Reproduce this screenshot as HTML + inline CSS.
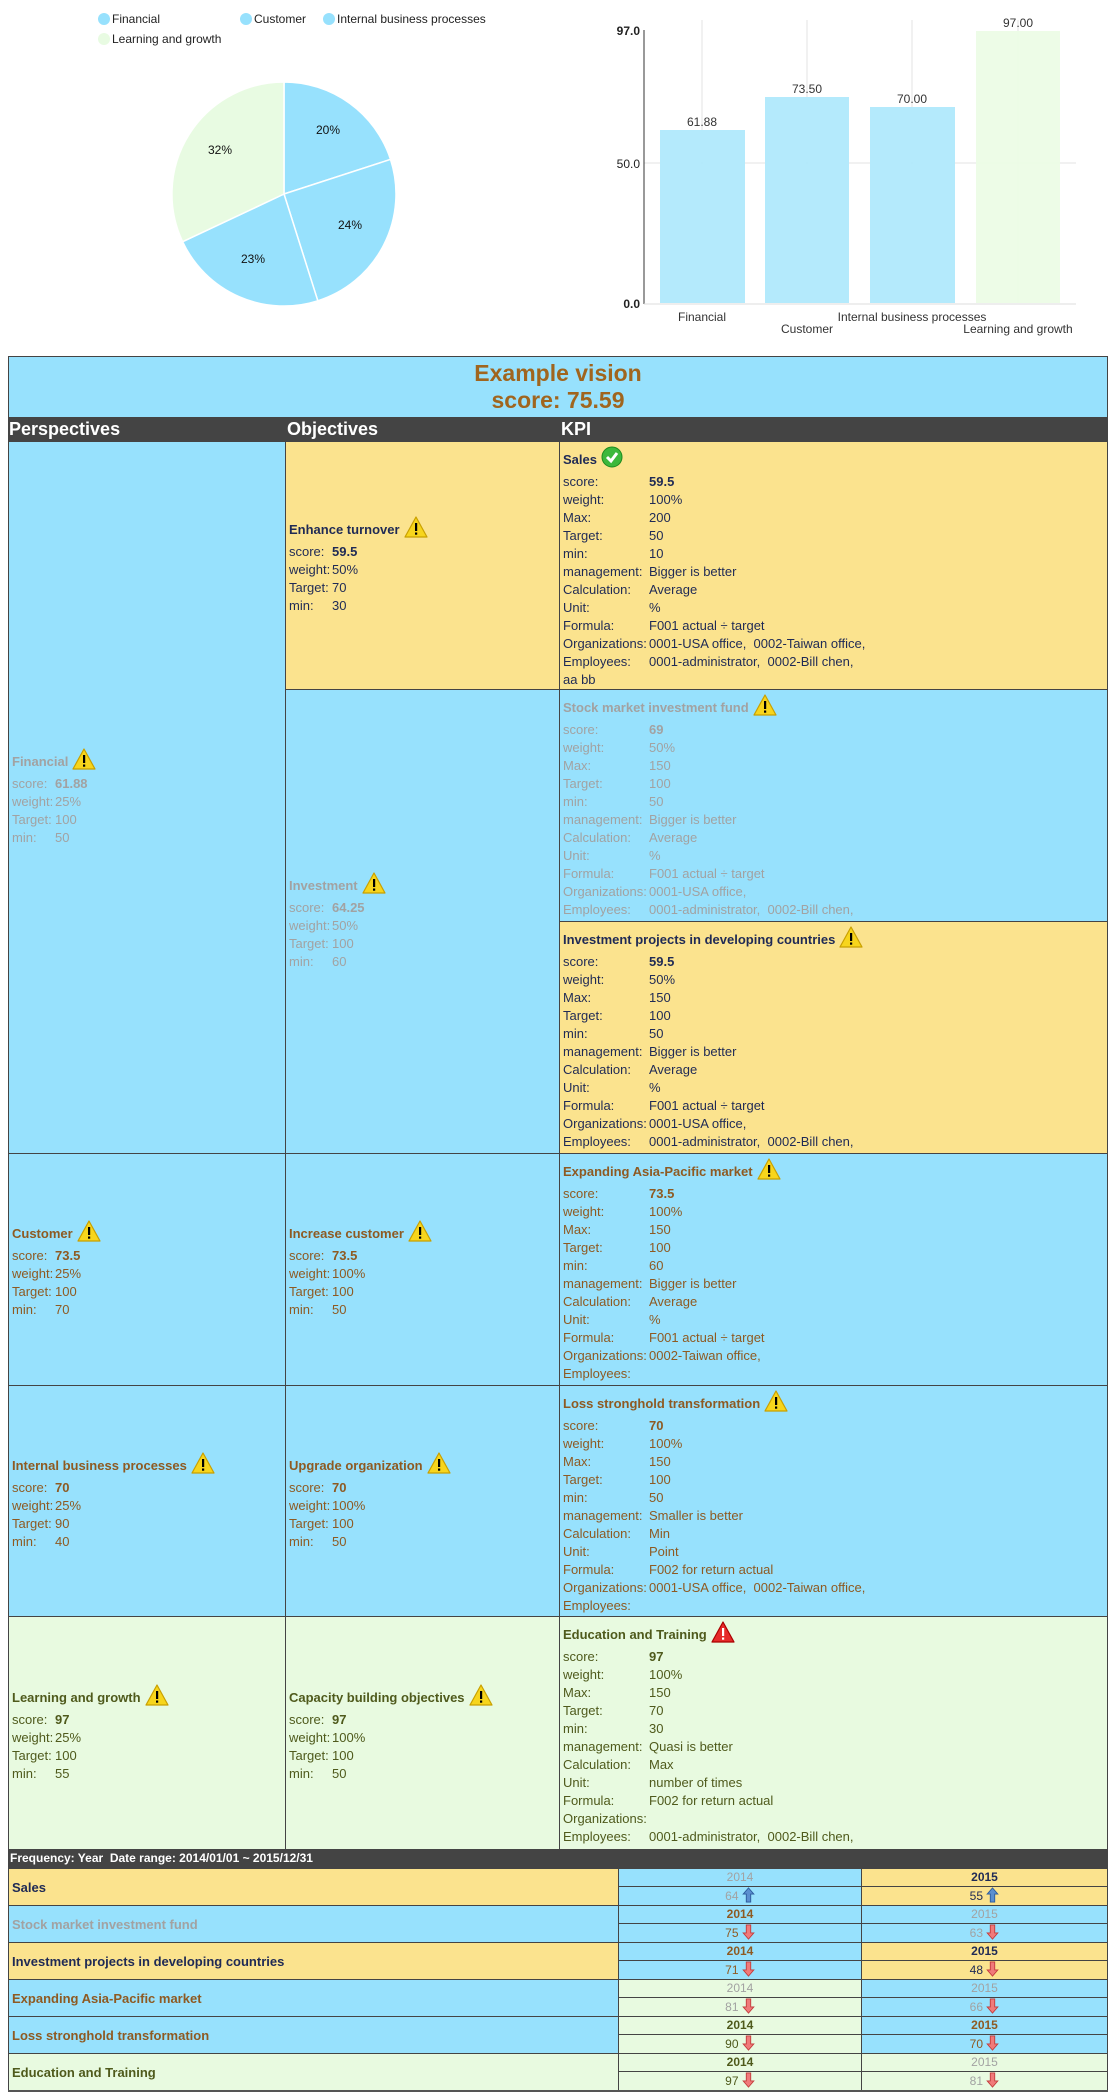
<!DOCTYPE html>
<html><head><meta charset="utf-8">
<style>
*{margin:0;padding:0;box-sizing:border-box}
body{width:1114px;height:2095px;background:#fff;position:relative;font-family:"Liberation Sans",Arial,sans-serif;font-size:13px;overflow:hidden}
.a{position:absolute}
.c{position:absolute;border:1px solid #444;display:flex;align-items:center;padding-left:3px}
.k{position:absolute;border:1px solid #444;padding:4px 0 0 3px}
.blue{background:#97e1fd}.yel{background:#fbe38e}.grn{background:#e8fae0}
.navy{color:#1f2a55}.grey{color:#a2a2a2}.brown{color:#8e5a22}.olive{color:#4f5a1c}
table{border-collapse:collapse}
td{padding:0;height:18px;line-height:18px;white-space:nowrap;vertical-align:middle}
.t{font-weight:bold;height:26px;line-height:26px}
.t svg{vertical-align:-4px;margin-left:4px}
.b{font-weight:bold}
.yr{position:absolute;border:1px solid #444;text-align:center;font-size:12px;line-height:17px}
</style></head><body>

<!-- Pie legend -->
<svg class="a" style="left:0;top:0" width="560" height="340">
<g font-family="Liberation Sans, Arial, sans-serif" font-size="12" fill="#222">
<circle cx="104" cy="19" r="6" fill="#97e1fd"/><text x="112" y="23">Financial</text>
<circle cx="246" cy="19" r="6" fill="#97e1fd"/><text x="254" y="23">Customer</text>
<circle cx="329" cy="19" r="6" fill="#97e1fd"/><text x="337" y="23">Internal business processes</text>
<circle cx="104" cy="39" r="6" fill="#e8fbe2"/><text x="112" y="43">Learning and growth</text>
</g>
<g stroke="#fff" stroke-width="1.5">
<path d="M284,194 L284,82 A112,112 0 0 1 390.5,159.4 Z" fill="#97e1fd"/>
<path d="M284,194 L390.5,159.4 A112,112 0 0 1 317.8,300.8 Z" fill="#97e1fd"/>
<path d="M284,194 L317.8,300.8 A112,112 0 0 1 182.6,241.7 Z" fill="#97e1fd"/>
<path d="M284,194 L182.6,241.7 A112,112 0 0 1 284,82 Z" fill="#e8fbe2"/>
</g>
<g font-family="Liberation Sans, Arial, sans-serif" font-size="12" fill="#111" text-anchor="middle">
<text x="328" y="134">20%</text><text x="350" y="229">24%</text>
<text x="253" y="263">23%</text><text x="220" y="154">32%</text>
</g>
</svg>

<!-- Bar chart -->
<svg class="a" style="left:0;top:0" width="1114" height="345">
<g stroke="#e3e3e3" stroke-width="1">
<line x1="702" y1="20" x2="702" y2="303"/><line x1="807" y1="20" x2="807" y2="303"/>
<line x1="912" y1="20" x2="912" y2="303"/><line x1="1018" y1="20" x2="1018" y2="303"/>
<line x1="644" y1="163" x2="1076" y2="163"/>
</g>
<rect x="660" y="130" width="85" height="173" fill="#b0e9fc" opacity=".95"/>
<rect x="765" y="97" width="84" height="206" fill="#b0e9fc" opacity=".95"/>
<rect x="870" y="107" width="85" height="196" fill="#b0e9fc" opacity=".95"/>
<rect x="976" y="31" width="84" height="272" fill="#ecfce6" opacity=".95"/>
<line x1="644" y1="30" x2="644" y2="304" stroke="#333"/>
<line x1="644" y1="304" x2="1076" y2="304" stroke="#ddd"/>
<g font-family="Liberation Sans, Arial, sans-serif" font-size="12" fill="#222" text-anchor="end">
<text x="640" y="35" font-weight="bold">97.0</text><text x="640" y="168">50.0</text><text x="640" y="308" font-weight="bold">0.0</text>
</g>
<g font-family="Liberation Sans, Arial, sans-serif" font-size="12" fill="#333" text-anchor="middle">
<text x="702" y="126">61.88</text><text x="807" y="93">73.50</text><text x="912" y="103">70.00</text><text x="1018" y="27">97.00</text>
<text x="702" y="321">Financial</text><text x="807" y="333">Customer</text>
<text x="912" y="321">Internal business processes</text><text x="1018" y="333">Learning and growth</text>
</g>
</svg>

<!-- Title band -->
<div class="a blue" style="left:8px;top:356px;width:1100px;height:62px;border:1px solid #444;text-align:center;color:#a0651e;font-weight:bold;font-size:23px;line-height:27px;padding-top:3px">Example vision<br>score: 75.59</div>
<div class="a" style="left:8px;top:417px;width:1100px;height:24px;background:#444;color:#fff;font-weight:bold;font-size:18px;line-height:24px">
<span class="a" style="left:1px">Perspectives</span><span class="a" style="left:279px">Objectives</span><span class="a" style="left:553px">KPI</span></div>

<svg width="0" height="0" style="position:absolute"><defs>
<symbol id="w" viewBox="0 0 24 22"><path d="M12 1 L23 21 L1 21 Z" fill="#f7d51c" stroke="#c9a000" stroke-width="1.2" stroke-linejoin="round"/><rect x="11" y="7" width="2.2" height="8" fill="#000"/><rect x="11" y="16.5" width="2.2" height="2.2" fill="#000"/></symbol>
<symbol id="r" viewBox="0 0 24 22"><path d="M12 1 L23 21 L1 21 Z" fill="#e62a2a" stroke="#a00" stroke-width="1.2" stroke-linejoin="round"/><rect x="11" y="7" width="2.2" height="8" fill="#fff"/><rect x="11" y="16.5" width="2.2" height="2.2" fill="#fff"/></symbol>
<symbol id="ok" viewBox="0 0 22 22"><circle cx="11" cy="11" r="10" fill="#3cb83c" stroke="#1e8a1e"/><path d="M6 11 L10 15 L16 7" stroke="#fff" stroke-width="3" fill="none"/></symbol>
<symbol id="up" viewBox="0 0 14 18"><path d="M7 1 L13 8 L9.5 8 L9.5 17 L4.5 17 L4.5 8 L1 8 Z" fill="#5b8fd0" stroke="#2b5a9a"/></symbol>
<symbol id="dn" viewBox="0 0 14 18"><path d="M7 17 L13 10 L9.5 10 L9.5 1 L4.5 1 L4.5 10 L1 10 Z" fill="#f07a7a" stroke="#c23a3a"/></symbol>
</defs></svg>

<!-- Perspectives -->
<div class="c blue grey" style="left:8px;top:441px;width:278px;height:713px"><table><tr><td colspan="2" class="t">Financial<svg width="24" height="22"><use href="#w"/></svg></td></tr><tr><td style="width:43px">score:</td><td class="b">61.88</td></tr><tr><td>weight:</td><td>25%</td></tr><tr><td>Target:</td><td>100</td></tr><tr><td>min:</td><td>50</td></tr></table></div>
<div class="c blue brown" style="left:8px;top:1153px;width:278px;height:233px"><table><tr><td colspan="2" class="t">Customer<svg width="24" height="22"><use href="#w"/></svg></td></tr><tr><td style="width:43px">score:</td><td class="b">73.5</td></tr><tr><td>weight:</td><td>25%</td></tr><tr><td>Target:</td><td>100</td></tr><tr><td>min:</td><td>70</td></tr></table></div>
<div class="c blue brown" style="left:8px;top:1385px;width:278px;height:232px"><table><tr><td colspan="2" class="t">Internal business processes<svg width="24" height="22"><use href="#w"/></svg></td></tr><tr><td style="width:43px">score:</td><td class="b">70</td></tr><tr><td>weight:</td><td>25%</td></tr><tr><td>Target:</td><td>90</td></tr><tr><td>min:</td><td>40</td></tr></table></div>
<div class="c grn olive" style="left:8px;top:1616px;width:278px;height:234px"><table><tr><td colspan="2" class="t">Learning and growth<svg width="24" height="22"><use href="#w"/></svg></td></tr><tr><td style="width:43px">score:</td><td class="b">97</td></tr><tr><td>weight:</td><td>25%</td></tr><tr><td>Target:</td><td>100</td></tr><tr><td>min:</td><td>55</td></tr></table></div>

<!-- Objectives -->
<div class="c yel navy" style="left:285px;top:441px;width:275px;height:249px"><table><tr><td colspan="2" class="t">Enhance turnover<svg width="24" height="22"><use href="#w"/></svg></td></tr><tr><td style="width:43px">score:</td><td class="b">59.5</td></tr><tr><td>weight:</td><td>50%</td></tr><tr><td>Target:</td><td>70</td></tr><tr><td>min:</td><td>30</td></tr></table></div>
<div class="c blue grey" style="left:285px;top:689px;width:275px;height:465px"><table><tr><td colspan="2" class="t">Investment<svg width="24" height="22"><use href="#w"/></svg></td></tr><tr><td style="width:43px">score:</td><td class="b">64.25</td></tr><tr><td>weight:</td><td>50%</td></tr><tr><td>Target:</td><td>100</td></tr><tr><td>min:</td><td>60</td></tr></table></div>
<div class="c blue brown" style="left:285px;top:1153px;width:275px;height:233px"><table><tr><td colspan="2" class="t">Increase customer<svg width="24" height="22"><use href="#w"/></svg></td></tr><tr><td style="width:43px">score:</td><td class="b">73.5</td></tr><tr><td>weight:</td><td>100%</td></tr><tr><td>Target:</td><td>100</td></tr><tr><td>min:</td><td>50</td></tr></table></div>
<div class="c blue brown" style="left:285px;top:1385px;width:275px;height:232px"><table><tr><td colspan="2" class="t">Upgrade organization<svg width="24" height="22"><use href="#w"/></svg></td></tr><tr><td style="width:43px">score:</td><td class="b">70</td></tr><tr><td>weight:</td><td>100%</td></tr><tr><td>Target:</td><td>100</td></tr><tr><td>min:</td><td>50</td></tr></table></div>
<div class="c grn olive" style="left:285px;top:1616px;width:275px;height:234px"><table><tr><td colspan="2" class="t">Capacity building objectives<svg width="24" height="22"><use href="#w"/></svg></td></tr><tr><td style="width:43px">score:</td><td class="b">97</td></tr><tr><td>weight:</td><td>100%</td></tr><tr><td>Target:</td><td>100</td></tr><tr><td>min:</td><td>50</td></tr></table></div>

<!-- KPI -->
<div class="k yel navy" style="left:559px;top:441px;width:549px;height:249px"><table>
<tr><td colspan="2" class="t">Sales<svg width="22" height="22"><use href="#ok"/></svg></td></tr>
<tr><td style="width:86px">score:</td><td class="b">59.5</td></tr><tr><td>weight:</td><td>100%</td></tr><tr><td>Max:</td><td>200</td></tr><tr><td>Target:</td><td>50</td></tr><tr><td>min:</td><td>10</td></tr><tr><td>management:</td><td>Bigger is better</td></tr><tr><td>Calculation:</td><td>Average</td></tr><tr><td>Unit:</td><td>%</td></tr><tr><td>Formula:</td><td>F001 actual ÷ target</td></tr><tr><td>Organizations:</td><td>0001-USA office,&nbsp; 0002-Taiwan office,</td></tr><tr><td>Employees:</td><td>0001-administrator,&nbsp; 0002-Bill chen,</td></tr><tr><td colspan="2">aa bb</td></tr></table></div>

<div class="k blue grey" style="left:559px;top:689px;width:549px;height:233px"><table>
<tr><td colspan="2" class="t">Stock market investment fund<svg width="24" height="22"><use href="#w"/></svg></td></tr>
<tr><td style="width:86px">score:</td><td class="b">69</td></tr><tr><td>weight:</td><td>50%</td></tr><tr><td>Max:</td><td>150</td></tr><tr><td>Target:</td><td>100</td></tr><tr><td>min:</td><td>50</td></tr><tr><td>management:</td><td>Bigger is better</td></tr><tr><td>Calculation:</td><td>Average</td></tr><tr><td>Unit:</td><td>%</td></tr><tr><td>Formula:</td><td>F001 actual ÷ target</td></tr><tr><td>Organizations:</td><td>0001-USA office,</td></tr><tr><td>Employees:</td><td>0001-administrator,&nbsp; 0002-Bill chen,</td></tr></table></div>

<div class="k yel navy" style="left:559px;top:921px;width:549px;height:233px"><table>
<tr><td colspan="2" class="t">Investment projects in developing countries<svg width="24" height="22"><use href="#w"/></svg></td></tr>
<tr><td style="width:86px">score:</td><td class="b">59.5</td></tr><tr><td>weight:</td><td>50%</td></tr><tr><td>Max:</td><td>150</td></tr><tr><td>Target:</td><td>100</td></tr><tr><td>min:</td><td>50</td></tr><tr><td>management:</td><td>Bigger is better</td></tr><tr><td>Calculation:</td><td>Average</td></tr><tr><td>Unit:</td><td>%</td></tr><tr><td>Formula:</td><td>F001 actual ÷ target</td></tr><tr><td>Organizations:</td><td>0001-USA office,</td></tr><tr><td>Employees:</td><td>0001-administrator,&nbsp; 0002-Bill chen,</td></tr></table></div>

<div class="k blue brown" style="left:559px;top:1153px;width:549px;height:233px"><table>
<tr><td colspan="2" class="t">Expanding Asia-Pacific market<svg width="24" height="22"><use href="#w"/></svg></td></tr>
<tr><td style="width:86px">score:</td><td class="b">73.5</td></tr><tr><td>weight:</td><td>100%</td></tr><tr><td>Max:</td><td>150</td></tr><tr><td>Target:</td><td>100</td></tr><tr><td>min:</td><td>60</td></tr><tr><td>management:</td><td>Bigger is better</td></tr><tr><td>Calculation:</td><td>Average</td></tr><tr><td>Unit:</td><td>%</td></tr><tr><td>Formula:</td><td>F001 actual ÷ target</td></tr><tr><td>Organizations:</td><td>0002-Taiwan office,</td></tr><tr><td>Employees:</td><td></td></tr></table></div>

<div class="k blue brown" style="left:559px;top:1385px;width:549px;height:232px"><table>
<tr><td colspan="2" class="t">Loss stronghold transformation<svg width="24" height="22"><use href="#w"/></svg></td></tr>
<tr><td style="width:86px">score:</td><td class="b">70</td></tr><tr><td>weight:</td><td>100%</td></tr><tr><td>Max:</td><td>150</td></tr><tr><td>Target:</td><td>100</td></tr><tr><td>min:</td><td>50</td></tr><tr><td>management:</td><td>Smaller is better</td></tr><tr><td>Calculation:</td><td>Min</td></tr><tr><td>Unit:</td><td>Point</td></tr><tr><td>Formula:</td><td>F002 for return actual</td></tr><tr><td>Organizations:</td><td>0001-USA office,&nbsp; 0002-Taiwan office,</td></tr><tr><td>Employees:</td><td></td></tr></table></div>

<div class="k grn olive" style="left:559px;top:1616px;width:549px;height:234px"><table>
<tr><td colspan="2" class="t">Education and Training<svg width="24" height="22"><use href="#r"/></svg></td></tr>
<tr><td style="width:86px">score:</td><td class="b">97</td></tr><tr><td>weight:</td><td>100%</td></tr><tr><td>Max:</td><td>150</td></tr><tr><td>Target:</td><td>70</td></tr><tr><td>min:</td><td>30</td></tr><tr><td>management:</td><td>Quasi is better</td></tr><tr><td>Calculation:</td><td>Max</td></tr><tr><td>Unit:</td><td>number of times</td></tr><tr><td>Formula:</td><td>F002 for return actual</td></tr><tr><td>Organizations:</td><td></td></tr><tr><td>Employees:</td><td>0001-administrator,&nbsp; 0002-Bill chen,</td></tr></table></div>

<!-- Frequency -->
<div class="a" style="left:8px;top:1849px;width:1100px;height:19px;background:#444;color:#fff;font-weight:bold;font-size:12px;line-height:19px;padding-left:2px">Frequency: Year&nbsp; Date range: 2014/01/01 ~ 2015/12/31</div>

<!-- Bottom rows -->
<div class="c yel navy b" style="left:8px;top:1868px;width:611px;height:38px">Sales</div>
<div class="yr blue grey" style="left:618px;top:1868px;width:244px;height:19px">2014</div>
<div class="yr blue grey" style="left:618px;top:1886px;width:244px;height:20px">64 <svg width="13" height="16" style="vertical-align:-3px"><use href="#up"/></svg></div>
<div class="yr yel navy b" style="left:861px;top:1868px;width:247px;height:19px">2015</div>
<div class="yr yel navy" style="left:861px;top:1886px;width:247px;height:20px">55 <svg width="13" height="16" style="vertical-align:-3px"><use href="#up"/></svg></div>

<div class="c blue grey b" style="left:8px;top:1905px;width:611px;height:38px">Stock market investment fund</div>
<div class="yr blue brown b" style="left:618px;top:1905px;width:244px;height:19px">2014</div>
<div class="yr blue brown" style="left:618px;top:1923px;width:244px;height:20px">75 <svg width="13" height="16" style="vertical-align:-3px"><use href="#dn"/></svg></div>
<div class="yr blue grey" style="left:861px;top:1905px;width:247px;height:19px">2015</div>
<div class="yr blue grey" style="left:861px;top:1923px;width:247px;height:20px">63 <svg width="13" height="16" style="vertical-align:-3px"><use href="#dn"/></svg></div>

<div class="c yel navy b" style="left:8px;top:1942px;width:611px;height:38px">Investment projects in developing countries</div>
<div class="yr blue brown b" style="left:618px;top:1942px;width:244px;height:19px">2014</div>
<div class="yr blue brown" style="left:618px;top:1960px;width:244px;height:20px">71 <svg width="13" height="16" style="vertical-align:-3px"><use href="#dn"/></svg></div>
<div class="yr yel navy b" style="left:861px;top:1942px;width:247px;height:19px">2015</div>
<div class="yr yel navy" style="left:861px;top:1960px;width:247px;height:20px">48 <svg width="13" height="16" style="vertical-align:-3px"><use href="#dn"/></svg></div>

<div class="c blue brown b" style="left:8px;top:1979px;width:611px;height:38px">Expanding Asia-Pacific market</div>
<div class="yr grn grey" style="left:618px;top:1979px;width:244px;height:19px">2014</div>
<div class="yr grn grey" style="left:618px;top:1997px;width:244px;height:20px">81 <svg width="13" height="16" style="vertical-align:-3px"><use href="#dn"/></svg></div>
<div class="yr blue grey" style="left:861px;top:1979px;width:247px;height:19px">2015</div>
<div class="yr blue grey" style="left:861px;top:1997px;width:247px;height:20px">66 <svg width="13" height="16" style="vertical-align:-3px"><use href="#dn"/></svg></div>

<div class="c blue brown b" style="left:8px;top:2016px;width:611px;height:38px">Loss stronghold transformation</div>
<div class="yr grn olive b" style="left:618px;top:2016px;width:244px;height:19px">2014</div>
<div class="yr grn olive" style="left:618px;top:2034px;width:244px;height:20px">90 <svg width="13" height="16" style="vertical-align:-3px"><use href="#dn"/></svg></div>
<div class="yr blue brown b" style="left:861px;top:2016px;width:247px;height:19px">2015</div>
<div class="yr blue brown" style="left:861px;top:2034px;width:247px;height:20px">70 <svg width="13" height="16" style="vertical-align:-3px"><use href="#dn"/></svg></div>

<div class="c grn olive b" style="left:8px;top:2053px;width:611px;height:38px">Education and Training</div>
<div class="yr grn olive b" style="left:618px;top:2053px;width:244px;height:19px">2014</div>
<div class="yr grn olive" style="left:618px;top:2071px;width:244px;height:20px">97 <svg width="13" height="16" style="vertical-align:-3px"><use href="#dn"/></svg></div>
<div class="yr grn grey" style="left:861px;top:2053px;width:247px;height:19px">2015</div>
<div class="yr grn grey" style="left:861px;top:2071px;width:247px;height:20px">81 <svg width="13" height="16" style="vertical-align:-3px"><use href="#dn"/></svg></div>
<div class="a" style="left:8px;top:2090px;width:1100px;height:2px;background:#555"></div>

</body></html>
